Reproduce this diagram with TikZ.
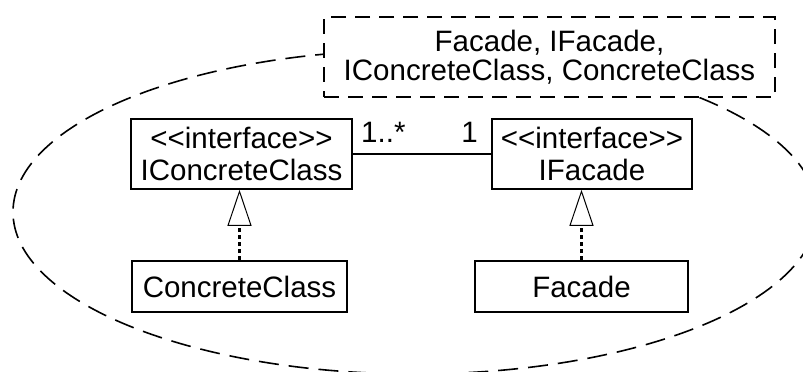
\documentclass[tikz,border=0pt]{standalone}
\usepackage{fontspec}
\setmainfont{Liberation Sans}
\usetikzlibrary{arrows.meta}

\begin{document}
\begin{tikzpicture}[
        x=1pt, y=-1pt,
        every node/.style={font=\fontsize{29.5}{32}\selectfont, inner sep=0pt},
        cls/.style={draw, line width=1.6pt, fill=white, align=center},
        note/.style={draw, line width=1.6pt, dash pattern=on 15pt off 9pt,
            fill=white, align=center, font=\fontsize{29.5}{29}\selectfont},
        group/.style={line width=1.6pt, dash pattern=on 20pt off 10pt},
        assoc/.style={line width=1.5pt},
        realize/.style={line width=3pt, dash pattern=on 4pt off 3pt,
            -{Triangle[open, length=36pt, width=24pt, line width=1pt]}},
    ]
    \useasboundingbox (0,0) rectangle (803,372);

    % package boundary
    \draw[group] (415,212) ellipse [x radius=402, y radius=162];

    % note
    \node[note, minimum width=451pt, minimum height=80pt] at (549.5,57) (pkg)
                {Facade, IFacade,\\IConcreteClass, ConcreteClass};

    % interfaces
    \node[cls, minimum width=221pt, minimum height=70pt] at (241.5,154) (iconc)
                {<\kern0pt<interface>\kern0pt>\\IConcreteClass};
    \node[cls, minimum width=200pt, minimum height=70pt] at (592,154) (ifac)
                {<\kern0pt<interface>\kern0pt>\\IFacade};

    % classes
    \node[cls, minimum width=215pt, minimum height=51pt] at (239.5,286.5) (conc)
                {ConcreteClass};
    \node[cls, minimum width=213pt, minimum height=51pt] at (581.5,286.5) (fac)
                {Facade};

    % association
    \draw[assoc] (iconc.east) -- (ifac.west);
    \node[anchor=base west] at (361,142) (many) {1..*};
    \node[anchor=base east] at (478,142) (one) {1};

    % realization
    \draw[realize] (conc.north) -- (conc.north |- iconc.south);
    \draw[realize] (fac.north) -- (fac.north |- ifac.south);
\end{tikzpicture}
\end{document}
